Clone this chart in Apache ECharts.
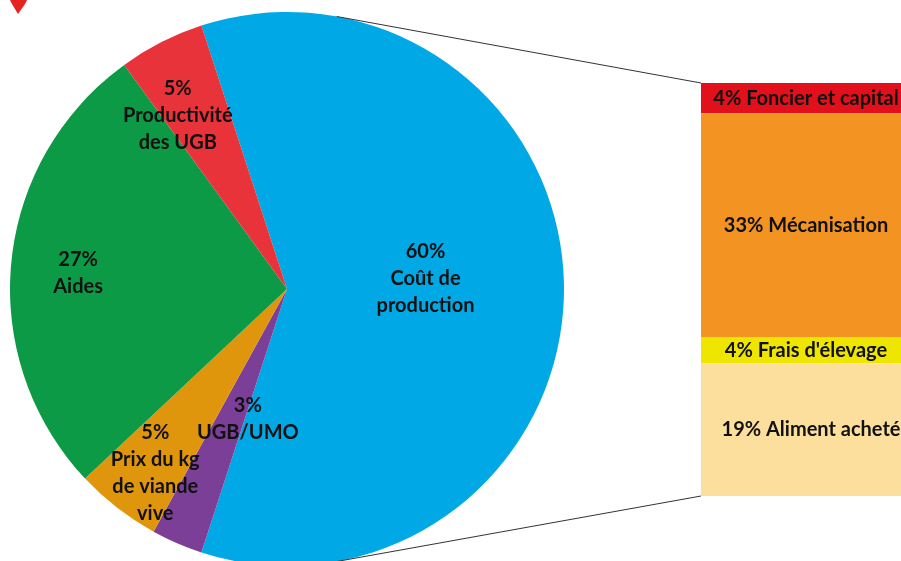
<!DOCTYPE html>
<html>
<head>
<meta charset="utf-8">
<script src="https://cdn.jsdelivr.net/npm/echarts@6/dist/echarts.min.js"></script>
<style>
  html, body { margin: 0; padding: 0; background: #fff; }
  #main { width: 901px; height: 561px; }
</style>
</head>
<body>
<div id="main"></div>
<script>
// pie: parts of the margin gap, bar: detail of "Coût de production"
var pieNames = ['60%\nCoût de\nproduction', '3%\nUGB/UMO', '5%\nPrix du kg\nde viande\nvive', '27%\nAides', '5%\nProductivité\ndes UGB'];
var pieValues = [60, 3, 5, 27, 5];
var pieColors = ['#00a9e6', '#7b3f98', '#e0960c', '#0c9a46', '#e8333a'];

var barNames = ['4% Foncier et capital', '33% Mécanisation', "4% Frais d'élevage", '19% Aliment acheté'];
var barValues = [4.4, 32.5, 3.8, 19.3];
var barColors = ['#e1101a', '#f39321', '#efe600', '#fddf9d'];

// label shifts from the default "inside" spot (applied twice by labelLayout here)
var labelShift = [[-1.5, -5], [8.5, 0], [-22.5, 36], [-34, -1.5], [-22.5, -23.5]];

var pieCenter = [287, 289];
var pieRadius = 277;

var chart = echarts.init(document.getElementById('main'), null, { renderer: 'canvas' });

var txt = { fontFamily: 'Lato', fontWeight: 'bold', color: '#111' };

var series = [{
  type: 'pie',
  center: pieCenter,
  radius: pieRadius,
  startAngle: 108,
  clockwise: true,
  animation: false,
  label: {
    show: true,
    position: 'inside',
    fontFamily: txt.fontFamily,
    fontWeight: txt.fontWeight,
    color: txt.color,
    fontSize: 20,
    lineHeight: 27,
    formatter: '{b}'
  },
  labelLayout: function (p) {
    var s = labelShift[p.dataIndex];
    return { dx: s[0], dy: s[1] };
  },
  labelLine: { show: false },
  emphasis: { disabled: true },
  data: pieValues.map(function (v, i) {
    return { name: pieNames[i], value: v, itemStyle: { color: pieColors[i] } };
  })
}];

barValues.forEach(function (v, i) {
  series.push({
    type: 'bar',
    stack: 'cout',
    barWidth: '100%',
    animation: false,
    name: barNames[i],
    itemStyle: { color: barColors[i] },
    label: {
      show: true,
      position: 'inside',
      offset: [i === 3 ? 10 : 5, 0],
      formatter: barNames[i],
      fontFamily: txt.fontFamily,
      fontWeight: txt.fontWeight,
      color: txt.color,
      fontSize: 20
    },
    data: [v]
  });
});

var option = {
  backgroundColor: '#fff',
  animation: false,
  grid: { left: 701, top: 83, width: 224, bottom: 65 },
  xAxis: { type: 'category', data: ['cout'], show: false },
  yAxis: { type: 'value', min: 0, max: 60, inverse: true, show: false },
  series: series
};
chart.setOption(option);

// tangent lines from the bar corners to the pie
function tangentPoint(px, py, upper) {
  var dx = px - pieCenter[0], dy = py - pieCenter[1];
  var d = Math.sqrt(dx * dx + dy * dy);
  var base = Math.atan2(dy, dx);
  var a = Math.acos(pieRadius / d);
  var ang = upper ? base - a : base + a;
  return [pieCenter[0] + pieRadius * Math.cos(ang), pieCenter[1] + pieRadius * Math.sin(ang)];
}
var topCorner = chart.convertToPixel({ gridIndex: 0 }, [0, 0]);
var botCorner = chart.convertToPixel({ gridIndex: 0 }, [0, 60]);
var leftX = 701;
var t1 = tangentPoint(leftX, topCorner[1], true);
var t2 = tangentPoint(leftX, botCorner[1], false);

chart.setOption({
  graphic: [
    { type: 'line', shape: { x1: t1[0], y1: t1[1], x2: leftX, y2: topCorner[1] }, style: { stroke: '#333', lineWidth: 1 }, z: 10 },
    { type: 'line', shape: { x1: t2[0], y1: t2[1], x2: leftX, y2: botCorner[1] }, style: { stroke: '#333', lineWidth: 1 }, z: 10 },
    { type: 'polygon', shape: { points: [[10, 0], [27, 0], [25, 4], [18, 14], [12, 4]] }, style: { fill: '#e52320' }, z: 10 }
  ]
});
</script>
</body>
</html>
